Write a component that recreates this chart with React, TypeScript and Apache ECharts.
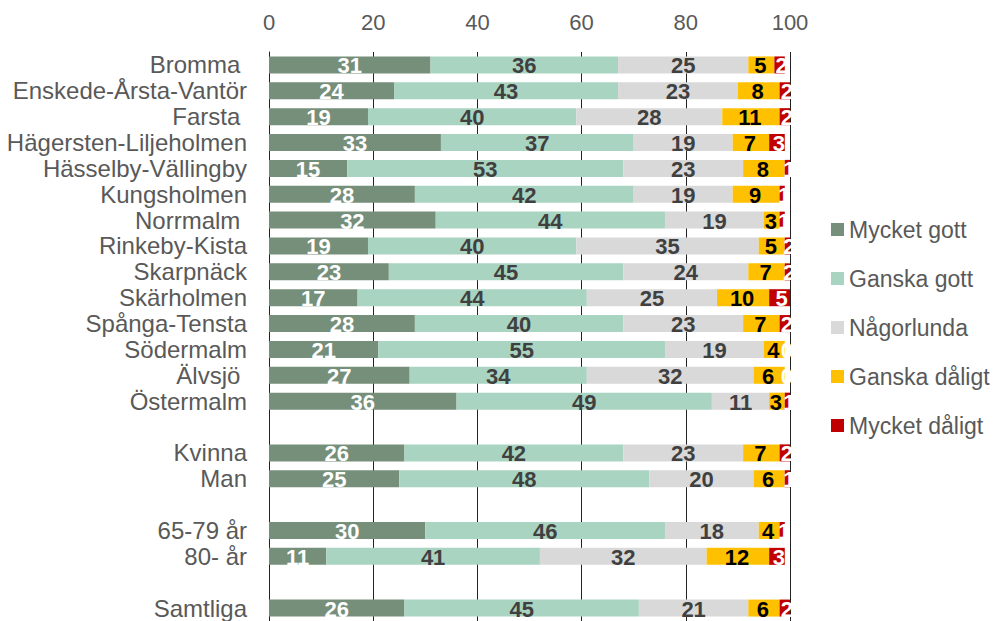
import React, { useEffect, useRef } from "react";
import * as echarts from "echarts";

const categories = [
  "Bromma ", "Enskede-Årsta-Vantör", "Farsta ", "Hägersten-Liljeholmen", "Hässelby-Vällingby",
  "Kungsholmen", "Norrmalm ", "Rinkeby-Kista", "Skarpnäck", "Skärholmen", "Spånga-Tensta",
  "Södermalm", "Älvsjö ", "Östermalm", "", "Kvinna", "Man", " ", "65-79 år", "80- år", "  ", "Samtliga",
];

const seriesNames = ["Mycket gott", "Ganska gott", "Någorlunda", "Ganska dåligt", "Mycket dåligt"];

const myncketGott = [31, 24, 19, 33, 15, 28, 32, 19, 23, 17, 28, 21, 27, 36, null, 26, 25, null, 30, 11, null, 26];
const ganskaGott = [36, 43, 40, 37, 53, 42, 44, 40, 45, 44, 40, 55, 34, 49, null, 42, 48, null, 46, 41, null, 45];
const nagorlunda = [25, 23, 28, 19, 23, 19, 19, 35, 24, 25, 23, 19, 32, 11, null, 23, 20, null, 18, 32, null, 21];
const ganskaDaligt = [5, 8, 11, 7, 8, 9, 3, 5, 7, 10, 7, 4, 6, 3, null, 7, 6, null, 4, 12, null, 6];
const mycketDaligt = [2, 2, 2, 3, 1, 1, 1, 2, 2, 5, 2, 0, 0, 1, null, 2, 1, null, 1, 3, null, 2];

const xTicks = [0, 20, 40, 60, 80, 100];

const colors = ["#768F7A", "#A9D4C1", "#D9D9D9", "#FFC000", "#C00000"];
const labelColors = ["#FFFFFF", "#404040", "#404040", "#000000", "#FFFFFF"];

const FONT = "'Liberation Sans', Arial, sans-serif";

export default function App() {
  const ref = useRef<HTMLDivElement>(null);
  useEffect(() => {
    if (!ref.current) return;
    const chart = echarts.init(ref.current, null, { renderer: "svg" });
    const values = [myncketGott, ganskaGott, nagorlunda, ganskaDaligt, mycketDaligt];
    chart.setOption({
      animation: false,
      textStyle: { fontFamily: FONT },
      grid: { left: 269, width: 521, top: 52, height: 572 },
      legend: {
        orient: "vertical",
        left: 826,
        top: 213,
        itemWidth: 13,
        itemHeight: 13,
        itemGap: 26,
        icon: "rect",
        data: seriesNames,
        textStyle: { fontSize: 23, color: "#595959", fontFamily: FONT },
      },
      xAxis: {
        type: "value",
        position: "top",
        min: xTicks[0],
        max: xTicks[xTicks.length - 1],
        interval: 20,
        axisLine: { show: false },
        axisTick: { show: false },
        axisLabel: { fontSize: 22, color: "#595959", margin: 19, fontFamily: FONT },
        splitLine: { show: true, lineStyle: { color: "#222222", width: 1 } },
      },
      yAxis: {
        type: "category",
        inverse: true,
        data: categories,
        axisLine: { show: true, lineStyle: { color: "#222222", width: 1 } },
        axisTick: { show: false },
        axisLabel: { fontSize: 24, color: "#595959", margin: 22, fontFamily: FONT, interval: 0 },
      },
      series: seriesNames.map((name, i) => ({
        name,
        type: "bar",
        stack: "total",
        barWidth: 17,
        data: values[i],
        itemStyle: { color: colors[i] },
        label: {
          show: true,
          position: "inside",
          color: labelColors[i],
          fontSize: 22,
          fontWeight: "bold",
          fontFamily: FONT,
          offset: i === 4 ? [2, 1] : i === 3 ? [-1, 1] : [0, 1],
          formatter: (p: any) => (p.value == null ? "" : String(p.value)),
        },
      })),
    });
    return () => chart.dispose();
  }, []);
  return (
    <div
      ref={ref}
      style={{ position: "absolute", left: 0, top: 0, width: 994, height: 621, background: "#fff" }}
    />
  );
}
